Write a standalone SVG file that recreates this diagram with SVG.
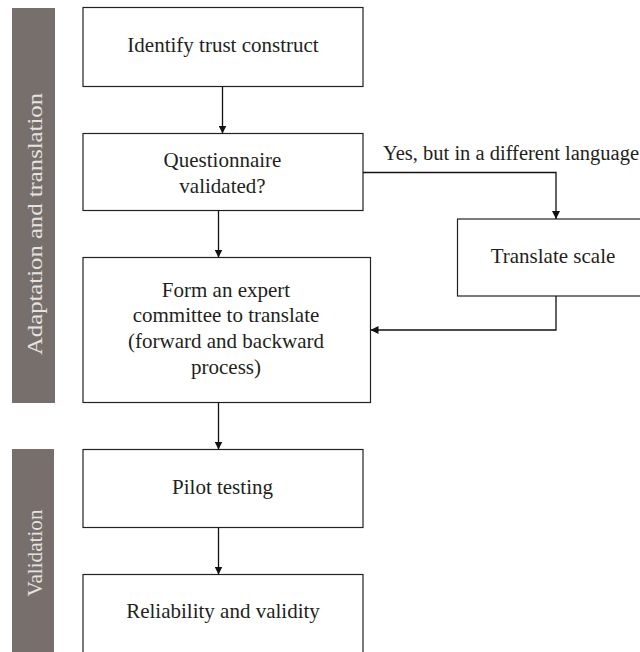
<svg xmlns="http://www.w3.org/2000/svg" width="640" height="652" viewBox="0 0 640 652">
<defs>
<marker id="arr" viewBox="0 0 10 10" refX="10" refY="5" markerWidth="8" markerHeight="8" markerUnits="userSpaceOnUse" orient="auto">
<path d="M0,0 L10,5 L0,10 z" fill="#111"/>
</marker>
<style>
.box{fill:#fff;stroke:#222;stroke-width:1.2}
.t{font-family:"Liberation Serif","Times New Roman",serif;font-size:21px;fill:#231f20;text-anchor:middle}
.bar{fill:#776f6c}
.bt{font-family:"Liberation Serif","Times New Roman",serif;font-size:21.5px;fill:#e6e2e0;text-anchor:middle}
.c{fill:none;stroke:#111;stroke-width:1.3}
</style>
</defs>
<rect width="640" height="652" fill="#fff"/>
<g id="phase-adaptation">
<rect class="bar" x="12" y="8" width="43" height="395"/>
<text class="bt" transform="translate(41.5,224) rotate(-90)" textLength="262" lengthAdjust="spacingAndGlyphs">Adaptation and translation</text>
</g>
<g id="phase-validation">
<rect class="bar" x="12" y="449" width="42" height="203"/>
<text class="bt" transform="translate(41.5,553) rotate(-90)" textLength="87" lengthAdjust="spacingAndGlyphs">Validation</text>
</g>
<g id="identify">
<rect class="box" x="83" y="7.5" width="280" height="79"/>
<text class="t" x="223" y="52">Identify trust construct</text>
</g>
<g id="validated">
<rect class="box" x="83" y="133.5" width="280" height="77"/>
<text class="t" x="222.5" y="167">Questionnaire</text>
<text class="t" x="222.5" y="193">validated?</text>
</g>
<g id="translate">
<rect class="box" x="457.5" y="219" width="200" height="77"/>
<text class="t" x="553" y="263">Translate scale</text>
</g>
<g id="committee">
<rect class="box" x="83" y="257.5" width="287.5" height="145"/>
<text class="t" x="226" y="297">Form an expert</text>
<text class="t" x="226" y="322">committee to translate</text>
<text class="t" x="226" y="348">(forward and backward</text>
<text class="t" x="226" y="374">process)</text>
</g>
<g id="pilot">
<rect class="box" x="83" y="449.5" width="280" height="78"/>
<text class="t" x="222.5" y="494">Pilot testing</text>
</g>
<g id="reliability">
<rect class="box" x="83" y="574.5" width="280" height="90"/>
<text class="t" x="223" y="618">Reliability and validity</text>
</g>
<g id="connectors">
<line class="c" x1="222.5" y1="86.5" x2="222.5" y2="133.5" marker-end="url(#arr)"/>
<line class="c" x1="218.5" y1="210.5" x2="218.5" y2="257.5" marker-end="url(#arr)"/>
<polyline class="c" points="363,172.5 556,172.5 556,219" marker-end="url(#arr)"/>
<polyline class="c" points="556,296 556,330 370.5,330" marker-end="url(#arr)"/>
<line class="c" x1="218.5" y1="402.5" x2="218.5" y2="449.5" marker-end="url(#arr)"/>
<line class="c" x1="218.5" y1="527.5" x2="218.5" y2="574.5" marker-end="url(#arr)"/>
<text class="t" x="383" y="160" style="text-anchor:start;font-size:20.5px">Yes, but in a different language</text>
</g>
</svg>
